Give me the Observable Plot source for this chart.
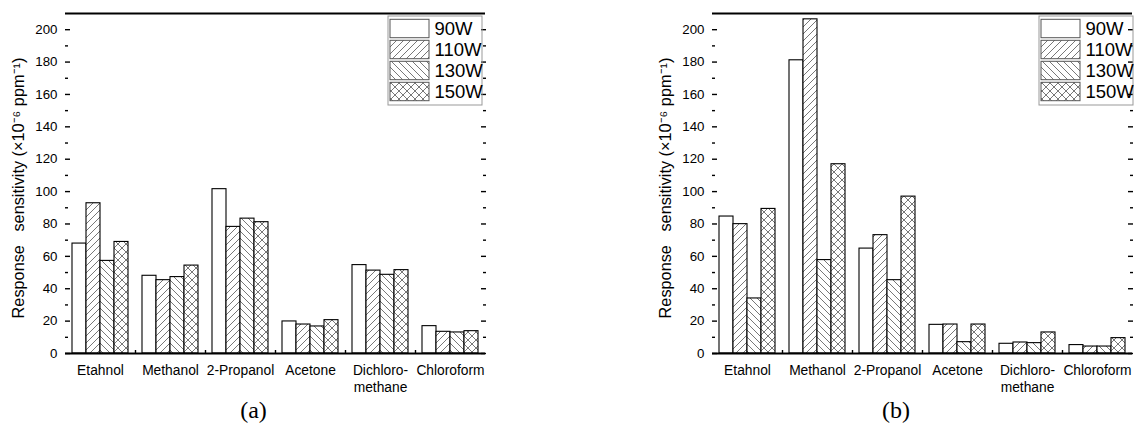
<!DOCTYPE html>
<html><head><meta charset="utf-8">
<script src="https://cdn.jsdelivr.net/npm/d3@7"></script>
<script src="https://cdn.jsdelivr.net/npm/@observablehq/plot@0.6"></script>
<style>
body{margin:0;background:#fff;}
#root{position:relative;width:1134px;height:430px;overflow:hidden;font-family:"Liberation Sans",Arial,sans-serif;background:#fff;}
.abs{position:absolute;}
.cap{position:absolute;font-family:"Liberation Serif","Times New Roman",serif;font-size:24px;transform:translate(-50%,-50%);color:#000;}
</style></head><body>
<svg width="0" height="0" style="position:absolute">
  <defs>
    <pattern id="pat-90W" patternUnits="userSpaceOnUse" width="7" height="7"><rect width="7" height="7" fill="#fff"/></pattern>
    <pattern id="pat-110W" patternUnits="userSpaceOnUse" width="7" height="7"><rect width="7" height="7" fill="#fff"/><path d="M-1,1L1,-1M0,7L7,0M6,8L8,6" stroke="#555" stroke-width="0.8"/></pattern>
    <pattern id="pat-130W" patternUnits="userSpaceOnUse" width="7" height="7"><rect width="7" height="7" fill="#fff"/><path d="M-1,6L1,8M0,0L7,7M6,-1L8,1" stroke="#555" stroke-width="0.8"/></pattern>
    <pattern id="pat-150W" patternUnits="userSpaceOnUse" width="8" height="8"><rect width="8" height="8" fill="#fff"/><path d="M-1,1L1,-1M0,8L8,0M7,9L9,7M-1,7L1,9M0,0L8,8M7,-1L9,1" stroke="#555" stroke-width="0.8"/></pattern>
  </defs>
</svg>
<div id="root"></div>
<script>
// ---- data ----
const categories = ["Etahnol", "Methanol", "2-Propanol", "Acetone", "Dichloromethane", "Chloroform"];
const categoryLabels = ["Etahnol", "Methanol", "2-Propanol", "Acetone", "Dichloro-\nmethane", "Chloroform"];
const series = ["90W", "110W", "130W", "150W"];
const yTicks = [0, 20, 40, 60, 80, 100, 120, 140, 160, 180, 200];
const yMinorTicks = [10, 30, 50, 70, 90, 110, 130, 150, 170, 190];
const yLabel = "Response\u00a0\u00a0 sensitivity (×10⁻⁶ ppm⁻¹)\u00a0\u00a0";

// panel (a)
const a90W  = [67.9, 48.0, 101.5, 19.8, 54.6, 16.9];
const a110W = [92.8, 45.3, 78.2, 17.9, 51.2, 13.4];
const a130W = [57.2, 47.2, 83.3, 16.7, 48.6, 13.0];
const a150W = [68.9, 54.3, 81.1, 20.6, 51.5, 13.8];
// panel (b)
const b90W  = [84.6, 181.1, 64.8, 17.7, 6.0, 5.2];
const b110W = [79.9, 206.4, 73.1, 17.9, 6.8, 4.3];
const b130W = [34.0, 57.7, 45.3, 7.0, 6.4, 4.3];
const b150W = [89.3, 116.9, 96.9, 17.9, 13.0, 9.5];

const labelOf = new Map(categories.map((c, i) => [c, categoryLabels[i]]));
const colorScale = {domain: series, range: series.map(s => `url(#pat-${s})`)};

function rows(cols) {
  const out = [];
  categories.forEach((c, i) => series.forEach((s, j) => out.push({category: c, series: s, value: cols[j][i]})));
  return out;
}

function panel(cols, {width, marginLeft, marginRight, paddingOuter}) {
  const data = rows(cols);
  const tickOpts = {tickFormat: () => "", label: null, strokeWidth: 1.4};
  return Plot.plot({
    width, height: 430,
    marginLeft, marginRight, marginTop: 13, marginBottom: 77,
    style: {fontFamily: "Liberation Sans, Arial, sans-serif", background: "transparent", color: "#000", overflow: "visible"},
    fx: {domain: categories, paddingInner: 0, paddingOuter, axis: null, label: null},
    x: {domain: series, paddingInner: 0, paddingOuter: 0.5, axis: null},
    y: {domain: [0, 210], axis: null},
    color: colorScale,
    marks: [
      Plot.barY(data, {fx: "category", x: "series", y: "value", fill: "series", stroke: "#000", strokeWidth: 1.1}),
      Plot.ruleY([0], {stroke: "#000", strokeWidth: 1.8}),
      Plot.ruleY([210], {stroke: "#000", strokeWidth: 1.8}),
      Plot.axisY({anchor: "left", ticks: yTicks, tickSize: 0, tickPadding: 8, fontSize: 13.3, label: null, line: true, strokeWidth: 1.8}),
      Plot.axisY({anchor: "left", ticks: yTicks, tickSize: -5, ...tickOpts}),
      Plot.axisY({anchor: "left", ticks: yMinorTicks, tickSize: -3, ...tickOpts}),
      Plot.axisY({anchor: "right", ticks: yTicks, tickSize: 0, tickFormat: () => "", label: null, line: true, strokeWidth: 1.8}),
      Plot.axisY({anchor: "right", ticks: yTicks, tickSize: -5, ...tickOpts}),
      Plot.axisY({anchor: "right", ticks: yMinorTicks, tickSize: -3, ...tickOpts}),
      Plot.axisY({anchor: "left", ticks: [], label: yLabel, labelAnchor: "center", labelOffset: 53, fontSize: 16.3, labelArrow: "none"}),
      Plot.axisFx({anchor: "bottom", tickSize: 0, tickPadding: 9, fontSize: 13.8, lineHeight: 1.25, tickFormat: c => labelOf.get(c), label: null}),
      Plot.axisFx({anchor: "bottom", ticks: categories.slice(0, 5), tickSize: -3, dx: 35, tickFormat: () => "", label: null, strokeWidth: 1.4})
    ]
  });
}

function legend() {
  return Plot.plot({
    width: 95, height: 90, margin: 0,
    style: {fontFamily: "Liberation Sans, Arial, sans-serif", background: "transparent", color: "#000", overflow: "visible"},
    x: {domain: ["s"], range: [3, 42], padding: 0, axis: null},
    y: {domain: series, range: [2, 88], padding: 0, axis: null},
    color: colorScale,
    marks: [
      Plot.frame({stroke: "#999", inset: 0.5}),
      Plot.cell(series, {x: () => "s", y: d => d, fill: d => d, stroke: "#555", insetTop: 1.3, insetBottom: 1.3}),
      Plot.text(series, {x: () => "s", y: d => d, text: d => d, dx: 24.5, textAnchor: "start", fontSize: 18.5})
    ]
  });
}

const root = document.getElementById("root");
function place(el, left, top) {
  el.classList.add("abs");
  el.style.left = left + "px";
  el.style.top = top + "px";
  root.appendChild(el);
}
place(panel([a90W, a110W, a130W, a150W], {width: 490, marginLeft: 63, marginRight: 4, paddingOuter: 0.02}), 0, 0);
place(panel([b90W, b110W, b130W, b150W], {width: 486, marginLeft: 64, marginRight: 2, paddingOuter: 0}), 648, 0);
place(legend(), 387, 15);
place(legend(), 1037.5, 15);

for (const [t, x] of [["(a)", 253.5], ["(b)", 896]]) {
  const d = document.createElement("div");
  d.className = "cap";
  d.textContent = t;
  d.style.left = x + "px";
  d.style.top = "410px";
  root.appendChild(d);
}
</script>
</body></html>
